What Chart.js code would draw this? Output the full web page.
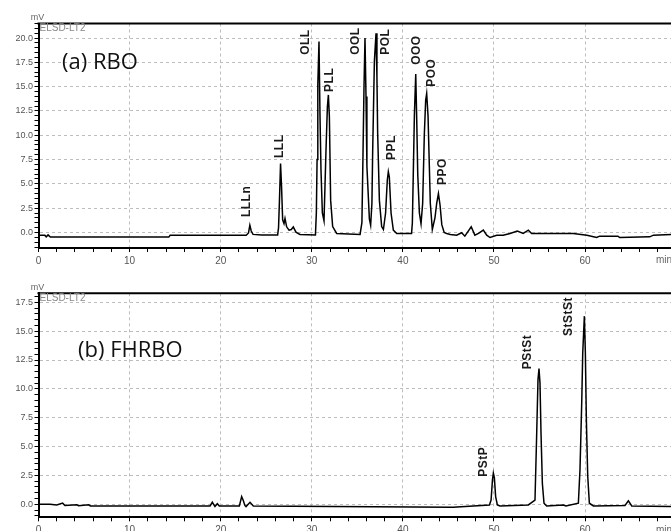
<!DOCTYPE html>
<html><head><meta charset="utf-8">
<script src="https://cdn.jsdelivr.net/npm/chart.js@4"></script>
<style>
html,body{margin:0;padding:0;background:#fff;overflow:hidden}
#wrap{position:relative;width:671px;height:531px;background:#fff}
.c{position:absolute;left:0}
</style></head><body>
<div id="wrap">
<canvas id="top" class="c" style="top:0" width="671" height="270"></canvas>
<canvas id="bot" class="c" style="top:270px" width="671" height="261"></canvas>
</div>
<script>
// ---------- data ----------
const xTickLabels = [0, 10, 20, 30, 40, 50, 60];
const rboYTicks = [0, 2.5, 5, 7.5, 10, 12.5, 15, 17.5, 20];
const fhrboYTicks = [0, 2.5, 5, 7.5, 10, 12.5, 15, 17.5];

const rboTime = [0.0,0.7,0.85,1.05,1.3,3.0,8.0,14.3,14.45,22.8,23.05,23.2,23.35,23.55,24.5,26.25,26.35,26.45,26.57,26.68,26.8,26.95,27.06,27.24,27.5,27.75,27.97,28.26,28.7,30.4,30.5,30.58,30.66,30.79,30.9,31.01,31.16,31.34,31.56,31.71,31.82,31.93,32.07,32.29,32.73,35.3,35.5,35.62,35.73,35.84,35.95,36.05,36.32,36.46,36.6,36.68,36.87,37.05,37.15,37.23,37.42,37.67,37.86,38.1,38.29,38.4,38.51,38.7,38.95,39.32,40.95,41.04,41.15,41.26,41.41,41.52,41.63,41.81,41.99,42.17,42.35,42.5,42.61,42.76,42.87,43.01,43.23,43.52,43.71,43.9,44.08,44.27,44.53,44.8,45.2,45.9,46.45,46.8,47.5,47.9,48.3,48.83,49.2,49.56,50.3,51.0,51.76,52.56,53.2,53.77,54.13,58.7,60.2,61.27,61.6,63.6,63.8,67.1,67.5,69.43];
const rboSignal = [-0.3,-0.3,-0.45,-0.25,-0.48,-0.46,-0.48,-0.48,-0.3,-0.28,-0.05,0.75,0.15,-0.2,-0.25,-0.25,0.5,3.3,7.1,4.7,1.3,0.9,1.44,0.58,0.24,0.3,0.58,0.03,-0.2,-0.25,2.0,7.5,15.2,19.65,12.0,6.4,2.0,1.2,8.5,12.9,14.15,11.9,3.3,0.6,-0.1,-0.2,1.0,8.0,15.0,20.0,14.0,6.8,1.4,0.75,3.0,8.2,17.6,20.5,16.0,10.2,3.3,0.6,0.3,2.0,5.4,6.25,5.7,2.0,0.24,-0.1,-0.1,1.0,6.5,12.0,16.3,11.5,6.0,2.0,0.9,3.0,10.0,13.6,14.3,12.0,8.0,3.0,0.3,1.5,3.0,4.0,2.8,0.8,0.0,-0.1,-0.2,-0.28,-0.03,-0.38,0.58,-0.28,-0.1,0.24,-0.28,-0.52,-0.28,-0.28,-0.1,0.14,-0.1,0.24,-0.1,-0.1,-0.28,-0.52,-0.38,-0.38,-0.52,-0.45,-0.28,-0.2];

const fhrboTime = [0.0,1.26,2.0,2.65,2.9,4.2,4.4,5.5,5.7,18.83,19.08,19.37,19.63,19.85,22.05,22.3,22.48,22.65,22.78,23.22,23.58,45.5,49.5,49.68,49.83,49.93,50.04,50.18,50.37,50.66,53.77,54.5,54.68,54.83,54.94,55.05,55.16,55.31,55.49,55.78,57.61,57.9,59.26,59.44,59.63,59.74,59.92,60.03,60.14,60.29,60.47,60.91,64.38,64.75,65.12,69.43];
const fhrboSignal = [0.0,0.0,-0.06,0.1,-0.1,-0.05,-0.12,-0.05,-0.15,-0.15,0.17,-0.2,0.05,-0.15,-0.15,0.66,0.32,-0.1,-0.2,0.17,-0.15,-0.25,-0.06,0.37,2.1,2.7,2.3,0.67,-0.06,-0.15,-0.06,0.35,5.9,10.8,11.75,10.5,6.2,1.8,0.09,-0.15,-0.06,-0.15,0.09,3.0,8.8,13.1,16.3,13.1,7.3,2.4,0.09,-0.15,-0.1,0.29,-0.15,-0.2];

const rboPeakNames  = ['LLLn','LLL','OLL','PLL','OOL','POL','PPL','OOO','POO','PPO'];
const rboPeakTimes  = [22.85, 26.5, 29.36, 32.0, 34.85, 38.11, 38.77, 41.51, 43.16, 44.37];
const rboPeakLevels = [1.58, 7.66, 18.28, 14.46, 18.28, 18.28, 7.45, 17.25, 14.98, 4.88];

const fhrboPeakNames  = ['PStP','PStSt','StStSt'];
const fhrboPeakTimes  = [48.83, 53.66, 58.16];
const fhrboPeakLevels = [2.38, 11.7, 14.57];

// ---------- drawing ----------
const FONT = '"Liberation Sans", Arial, sans-serif';
const X_MAX = 69.43;

function decor(cfg) {
  return {
    id: 'decor' + cfg.id,
    afterDraw(chart) {
      const ctx = chart.ctx, a = chart.chartArea, xs = chart.scales.x, ys = chart.scales.y;
      ctx.save();
      // top frame
      ctx.strokeStyle = '#000'; ctx.lineWidth = 2;
      ctx.beginPath(); ctx.moveTo(a.left - 1, a.top); ctx.lineTo(a.right, a.top); ctx.stroke();
      // unit labels
      ctx.fillStyle = '#666'; ctx.font = '9px ' + FONT;
      ctx.textAlign = 'center'; ctx.textBaseline = 'middle';
      ctx.fillText('mV', a.left - 1, a.top - 5.5);
      ctx.fillStyle = '#888'; ctx.font = '10px ' + FONT; ctx.textAlign = 'left';
      ctx.fillText('ELSD-LT2', a.left + 1, a.top + 5);
      ctx.fillStyle = '#666'; ctx.font = '10px ' + FONT;
      ctx.fillText('min', 656, a.bottom + 12.5);
      // panel title
      ctx.fillStyle = '#111'; ctx.font = '22px "Open Sans", ' + FONT;
      ctx.textBaseline = 'alphabetic'; ctx.textAlign = 'left';
      ctx.fillText(cfg.title, cfg.titleX, cfg.titleY);
      // peak labels
      ctx.fillStyle = '#1a1a1a'; ctx.font = 'bold 12px ' + FONT;
      try { ctx.letterSpacing = '0.5px'; } catch (e) {}
      cfg.names.forEach((n, i) => {
        const x = xs.getPixelForValue(cfg.times[i]);
        const y = ys.getPixelForValue(cfg.levels[i]);
        ctx.save();
        ctx.translate(x, y); ctx.rotate(-Math.PI / 2);
        ctx.textAlign = 'left'; ctx.textBaseline = 'middle';
        ctx.fillText(n, 0, 0);
        ctx.restore();
      });
      ctx.restore();
    }
  };
}

function makeChart(id, times, values, yMin, yMax, yTicks, padTop, xHeight, deco) {
  const minorY = [];
  for (let v = Math.ceil(yMin * 2) / 2; v <= yMax + 1e-9; v += 0.5) minorY.push(+v.toFixed(2));
  const minorX = [];
  for (let v = 0; v <= X_MAX; v += 2) minorX.push(v);
  const isMajorY = v => yTicks.some(t => Math.abs(t - v) < 1e-6);
  new Chart(document.getElementById(id), {
    type: 'line',
    data: { datasets: [{
      data: times.map((t, i) => ({ x: t, y: values[i] })),
      borderColor: '#000', borderWidth: 1.5, pointRadius: 0, tension: 0, fill: false
    }] },
    options: {
      responsive: false, animation: false, events: [],
      layout: { padding: { top: padTop, left: 0, right: 0, bottom: 0 } },
      plugins: { legend: { display: false }, tooltip: { enabled: false } },
      scales: {
        x: {
          type: 'linear', min: 0, max: X_MAX,
          afterBuildTicks: ax => { ax.ticks = minorX.map(v => ({ value: v })); },
          afterFit: s => { s.height = xHeight; },
          ticks: { autoSkip: false, maxRotation: 0, minRotation: 0, padding: 3, color: '#555',
                   font: { size: 10, family: FONT },
                   callback: v => xTickLabels.includes(v) ? String(v) : '' },
          grid: { color: c => (c.tick && xTickLabels.includes(c.tick.value) && c.tick.value > 0) ? '#bdbdbd' : 'transparent',
                  tickColor: '#000', tickLength: 4, lineWidth: 1 },
          border: { color: '#000', width: 2, dash: [3, 3] }
        },
        y: {
          type: 'linear', min: yMin, max: yMax,
          afterBuildTicks: ax => { ax.ticks = minorY.map(v => ({ value: v })); },
          afterFit: s => { s.width = 38.5; },
          ticks: { autoSkip: false, padding: 1.5, color: '#555',
                   font: { size: 9, family: FONT },
                   callback: v => isMajorY(v) ? v.toFixed(1) : '' },
          grid: { color: c => (c.tick && isMajorY(c.tick.value)) ? '#bdbdbd' : 'transparent',
                  tickColor: '#000', tickLength: 4, lineWidth: 1 },
          border: { color: '#000', width: 2, dash: [3, 3] }
        }
      }
    },
    plugins: [deco]
  });
}

makeChart('top', rboTime, rboSignal, -1.6, 21.5, rboYTicks, 23.5, 22,
  decor({ id: 'a', title: '(a) RBO', titleX: 62, titleY: 68.5,
          names: rboPeakNames, times: rboPeakTimes, levels: rboPeakLevels }));
makeChart('bot', fhrboTime, fhrboSignal, -1.13, 18.28, fhrboYTicks, 23.3, 13.7,
  decor({ id: 'b', title: '(b) FHRBO', titleX: 78, titleY: 87,
          names: fhrboPeakNames, times: fhrboPeakTimes, levels: fhrboPeakLevels }));
</script>
</body></html>
